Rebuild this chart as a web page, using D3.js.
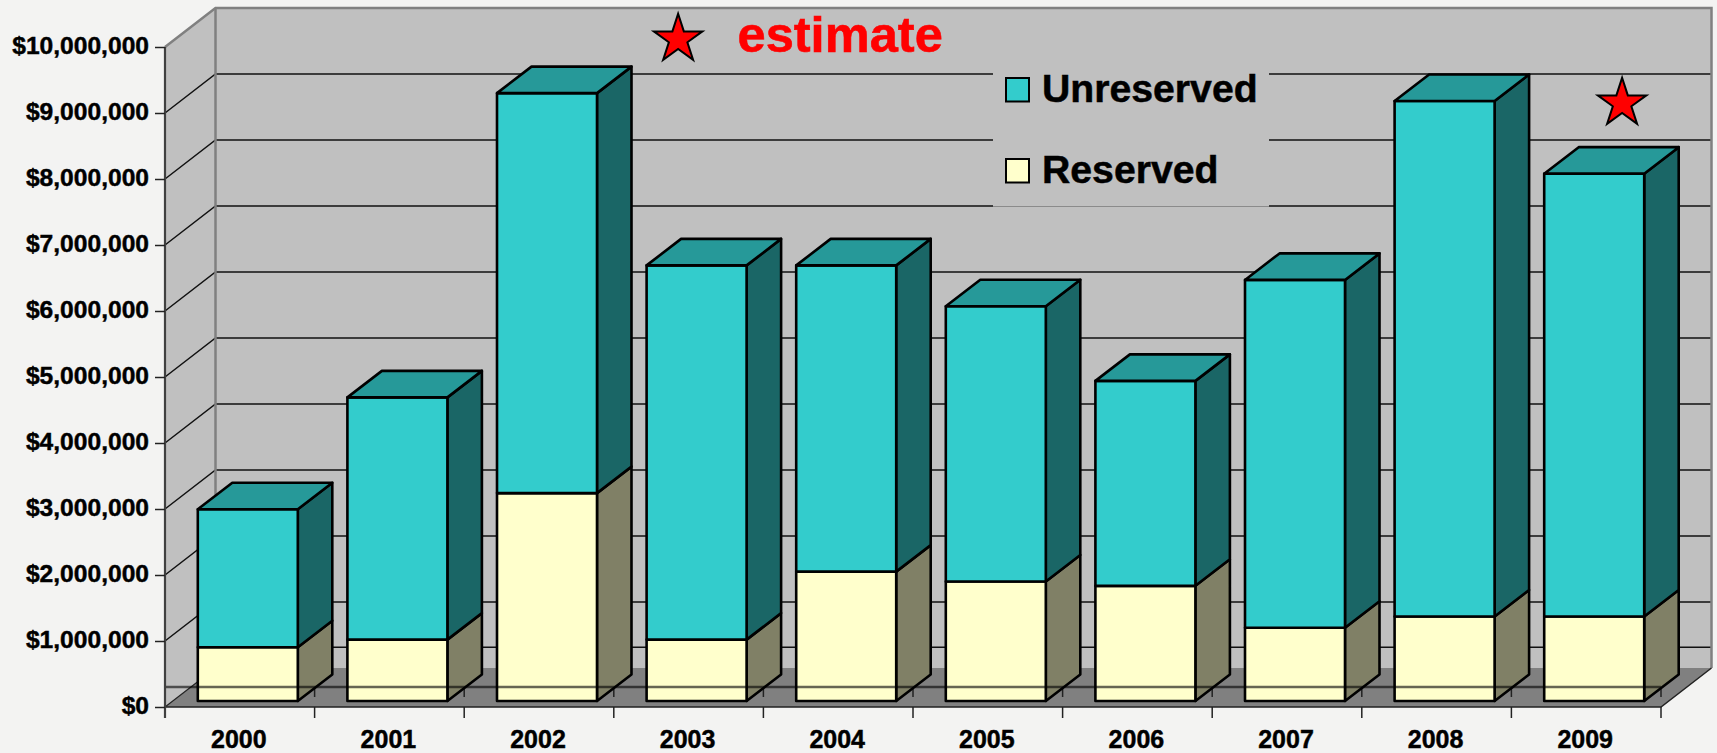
<!DOCTYPE html>
<html>
<head>
<meta charset="utf-8">
<script src="https://cdn.jsdelivr.net/npm/d3@7"></script>
<style>
html,body{margin:0;padding:0;background:#f3f3f2;overflow:hidden}
svg{display:block}
text{font-family:"Liberation Sans",Arial,sans-serif;font-weight:bold}
</style>
</head>
<body>
<svg id="chart" width="1717" height="753"></svg>
<script>
const categories = ["2000","2001","2002","2003","2004","2005","2006","2007","2008","2009"];
const reserved   = [815000,930000,3150000,930000,1960000,1810000,1745000,1110000,1280000,1280000];
const unreserved = [2091000,3670000,6060000,5670000,4640000,4170000,3105000,5270000,7810000,6710000];
const yTicks = [0,1000000,2000000,3000000,4000000,5000000,6000000,7000000,8000000,9000000,10000000];
const seriesNames = ["Unreserved","Reserved"];
const seriesColors = ["#33cccc","#ffffcc"];
const estimateMarks = [{pos:3.43,value:10117000},{pos:9.74,value:9147000}];
const estimateLabel = "estimate";

const svg = d3.select("#chart");
const W = {left:165,right:1661,top:47,bottom:707,dx:50.5,dy:-39};
const B = {inset:8,insetY:-6,dx:34.5,dy:-26.5,w:100};
const wall="#c0c0c0", floor="#808080", edge="#808080";

const y = d3.scaleLinear().domain([0,10000000]).range([W.bottom,W.top]);
const x = d3.scaleBand().domain(categories).range([W.left,W.right]);
const xPos = d3.scaleLinear().domain([0,categories.length]).range([W.left,W.right]);
const line = d3.line();
const poly = pts => line(pts)+"Z";
const g = svg.append("g");

// left wall, back wall, floor
g.append("path").attr("fill",wall).attr("d",poly([[W.left,W.top],[W.left+W.dx,W.top+W.dy],[W.left+W.dx,W.bottom+W.dy],[W.left,W.bottom]]));
g.append("rect").attr("fill",wall).attr("x",W.left+W.dx).attr("y",W.top+W.dy).attr("width",W.right-W.left).attr("height",W.bottom-W.top);
g.append("path").attr("fill",floor).attr("d",poly([[W.left,W.bottom],[W.left+W.dx,W.bottom+W.dy],[W.right+W.dx,W.bottom+W.dy],[W.right,W.bottom]]));

// gridlines on the walls
yTicks.slice(1,-1).forEach(t=>{
  g.append("path").attr("fill","none").attr("stroke","#111").attr("stroke-width",1.5)
   .attr("d",line([[W.left,y(t)],[W.left+W.dx,y(t)+W.dy],[W.right+W.dx,y(t)+W.dy]]));
});
// stray back line visible between the bars
g.append("line").attr("x1",W.left+W.dx).attr("x2",W.right+W.dx).attr("y1",647.3).attr("y2",647.3).attr("stroke","#111").attr("stroke-width",1.5);

// wall outline
g.append("path").attr("fill","none").attr("stroke",edge).attr("stroke-width",2.5)
 .attr("d",line([[W.left,W.top],[W.left+W.dx,W.top+W.dy],[W.right+W.dx,W.top+W.dy],[W.right+W.dx,W.bottom+W.dy]]));
g.append("line").attr("stroke",edge).attr("stroke-width",2.5)
 .attr("x1",W.left+W.dx).attr("x2",W.left+W.dx).attr("y1",W.top+W.dy).attr("y2",W.bottom+W.dy);
g.append("path").attr("fill","none").attr("stroke","#222").attr("stroke-width",1.5)
 .attr("d",line([[W.left,W.bottom],[W.right,W.bottom],[W.right+W.dx,W.bottom+W.dy]]));
g.append("line").attr("stroke","#222").attr("stroke-width",1.2)
 .attr("x1",W.left).attr("x2",W.left+W.dx).attr("y1",W.bottom).attr("y2",W.bottom+W.dy);

// inner x ticks, under the bars
d3.range(categories.length+1).forEach(i=>{
  g.append("line").attr("stroke","#222").attr("stroke-width",1.5)
   .attr("x1",xPos(i)).attr("x2",xPos(i)).attr("y1",687).attr("y2",697);
  if(i>0) g.append("line").attr("stroke","#222").attr("stroke-width",1.5)
   .attr("x1",xPos(i)).attr("x2",xPos(i)).attr("y1",W.bottom).attr("y2",718);
});

// legend backing
g.append("rect").attr("x",993).attr("y",73).attr("width",276).attr("height",133.6).attr("fill",wall);

// bars
const darken=(c,k)=>{const r=d3.rgb(c);return d3.rgb(r.r*k,r.g*k,r.b*k).formatHex();};
const barG = svg.append("g").attr("stroke","#000").attr("stroke-width",2.6).attr("stroke-linejoin","round");
categories.forEach((c,i)=>{
  const x0 = x(c)+x.bandwidth()/2-B.w/2+B.inset, x1=x0+B.w;
  const segs = [[0,reserved[i],seriesColors[1]],[reserved[i],reserved[i]+unreserved[i],seriesColors[0]]];
  segs.forEach(([a,b,col],k)=>{
    const ya=y(a)+B.insetY, yb=y(b)+B.insetY;
    barG.append("path").attr("fill",darken(col,.5))
      .attr("d",poly([[x1,ya],[x1+B.dx,ya+B.dy],[x1+B.dx,yb+B.dy],[x1,yb]]));
    barG.append("rect").attr("fill",col).attr("x",x0).attr("y",yb).attr("width",B.w).attr("height",ya-yb);
    if(k===1) barG.append("path").attr("fill",darken(col,.75))
      .attr("d",poly([[x0,yb],[x0+B.dx,yb+B.dy],[x1+B.dx,yb+B.dy],[x1,yb]]));
  });
});

// semi-transparent line across the bars
svg.append("line").attr("x1",W.left).attr("x2",W.right).attr("y1",687).attr("y2",687)
  .attr("stroke","#000").attr("stroke-opacity",.6).attr("stroke-width",2.4);
// left axis line
svg.append("line").attr("x1",W.left).attr("x2",W.left).attr("y1",W.top).attr("y2",718)
  .attr("stroke","#404040").attr("stroke-width",2.2);

// axes
const yAxis = svg.append("g").attr("transform",`translate(${W.left},0)`)
  .call(d3.axisLeft(y).tickValues(yTicks).tickFormat(d3.format("$,")).tickSize(10).tickPadding(6));
yAxis.select(".domain").remove();
yAxis.selectAll("line").attr("stroke","#222").attr("stroke-width",1.5);
yAxis.selectAll("text").attr("font-size",24.6).attr("fill","#000").attr("stroke","#000").attr("stroke-width",.45).attr("dy","0.28em")
  .attr("font-family",'"Liberation Sans",Arial,sans-serif').attr("font-weight","bold");

const xAxis = svg.append("g").attr("transform",`translate(-1,${W.bottom})`)
  .call(d3.axisBottom(x).tickSize(0).tickPadding(0));
xAxis.select(".domain").remove();
xAxis.selectAll("text").attr("font-size",25).attr("fill","#000").attr("stroke","#000").attr("stroke-width",.45).attr("y",41).attr("dy",0)
  .attr("font-family",'"Liberation Sans",Arial,sans-serif').attr("font-weight","bold");

// legend
const legY=[78,159], legB=[101.5,182.5];
seriesNames.forEach((n,i)=>{
  svg.append("rect").attr("x",1006).attr("y",legY[i]).attr("width",23).attr("height",23.5)
    .attr("fill",seriesColors[i]).attr("stroke","#000").attr("stroke-width",2);
  svg.append("text").attr("x",1042).attr("y",legB[i]).attr("font-size",39.2).attr("fill","#000").attr("stroke","#000").attr("stroke-width",.5).text(n);
});

// estimate marks
const starPts = r => d3.range(10).map(i=>{
  const a=i*Math.PI/5, rr=i%2?r*0.382:r;
  return [rr*Math.sin(a),-rr*Math.cos(a)];
});
estimateMarks.forEach(m=>{
  svg.append("path").attr("d",poly(starPts(25.5)))
    .attr("transform",`translate(${xPos(m.pos)},${y(m.value)})`)
    .attr("fill","#ff0000").attr("stroke","#000").attr("stroke-width",2);
});
svg.append("text").attr("x",737.5).attr("y",52).attr("font-size",50.6).attr("fill","#ff0000").attr("stroke","#ff0000").attr("stroke-width",.6).text(estimateLabel);
</script>
</body>
</html>
